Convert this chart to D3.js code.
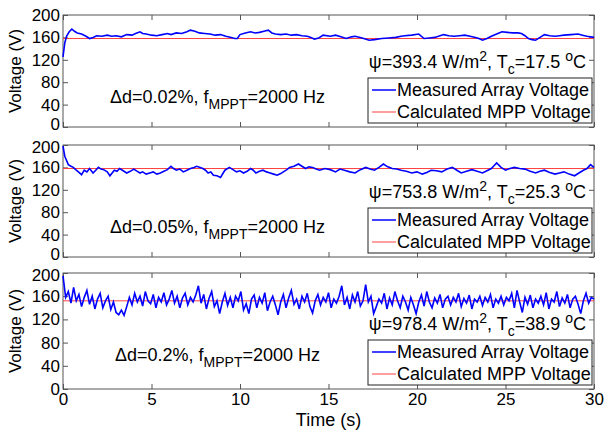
<!DOCTYPE html>
<html lang="en">
<head>
<meta charset="UTF-8" />
<title>Array voltage vs MPP voltage</title>
<script src="https://cdn.jsdelivr.net/npm/d3@7"></script>
<style>
  body { margin: 0; background: #fff; }
  text { font-family: "Liberation Sans", Arial, sans-serif; fill: #000; }
</style>
</head>
<body>
<svg width="604" height="432"></svg>
<script>
// axis ticks
const xTicks = [0, 5, 10, 15, 20, 25, 30];
const yTicks = [0, 40, 80, 120, 160, 200];

// panel 1: measured array voltage [time s, volts]
const measuredA = [[0,125],[0.1,150],[0.2,162],[0.35,170],[0.5,175],[0.65,171],[0.8,168],[1.05,166],[1.3,162],[1.5,158],
  [1.7,160],[1.9,163],[2.2,162],[2.5,164],[2.75,162],[3.0,163],[3.3,161],[3.6,165],[3.9,164],[4.1,167],[4.35,170],[4.5,167],
  [4.7,166],[5.0,164],[5.3,163],[5.6,165],[5.9,167],[6.1,165],[6.4,168],[6.7,167],[7.0,170],[7.2,173],[7.45,171],[7.7,168],
  [8.0,167],[8.3,166],[8.6,164],[8.9,165],[9.2,162],[9.5,160],[9.7,158],[9.85,158],[10.0,165],[10.3,168],[10.6,170],[10.85,168],
  [11.1,169],[11.35,171],[11.6,173],[11.8,168],[12.0,166],[12.3,165],[12.6,166],[12.9,164],[13.2,165],[13.5,163],[13.8,162],
  [14.0,160],[14.2,157],[14.45,159],[14.7,164],[15.1,162],[15.4,164],[15.7,161],[16.0,158],[16.3,161],[16.5,162],[16.9,159],
  [17.3,155],[17.6,156],[18.0,158],[18.4,159],[18.8,160],[19.1,162],[19.3,163],[19.7,164],[20.1,166],[20.4,158],[20.7,159],
  [21.0,160],[21.3,163],[21.5,165],[21.8,163],[22.1,162],[22.4,163],[22.7,164],[23.0,162],[23.3,160],[23.5,158],[23.7,155],
  [23.95,158],[24.2,162],[24.5,166],[24.8,170],[25.1,169],[25.4,168],[25.7,168],[25.9,167],[26.1,163],[26.3,158],[26.5,156],
  [26.7,155],[26.95,160],[27.2,165],[27.5,163],[27.8,162],[28.05,163],[28.3,164],[28.7,165],[29.1,166],[29.35,164],[29.6,162],[30,160]];

// panel 2
const measuredB = [[0,198],[0.1,180],[0.3,165],[0.45,162],[0.58,160],[0.75,155],[0.87,152],[1.05,147],[1.2,155],[1.35,152],
  [1.5,158],[1.7,150],[1.85,155],[2.0,160],[2.15,157],[2.3,156],[2.5,152],[2.65,145],[2.9,155],[3.05,153],[3.2,158],[3.4,154],
  [3.6,150],[3.8,153],[4.0,157],[4.2,153],[4.35,150],[4.5,152],[4.7,148],[4.9,150],[5.1,152],[5.3,148],[5.5,150],[5.7,153],
  [5.9,156],[6.1,162],[6.25,158],[6.4,155],[6.6,157],[6.8,152],[7.0,155],[7.2,158],[7.4,160],[7.55,162],[7.75,160],[7.9,158],
  [8.05,155],[8.2,150],[8.35,152],[8.5,146],[8.7,145],[8.9,142],[9.05,150],[9.15,155],[9.4,160],[9.6,156],[9.8,152],[10.0,154],
  [10.2,150],[10.4,153],[10.6,158],[10.75,155],[10.9,150],[11.1,153],[11.3,155],[11.5,152],[11.7,150],[11.9,148],[12.1,146],
  [12.3,149],[12.45,152],[12.65,156],[12.8,160],[13.05,162],[13.3,166],[13.5,162],[13.7,158],[13.9,161],[14.1,160],[14.3,157],
  [14.5,155],[14.8,158],[15.1,156],[15.4,152],[15.65,157],[15.9,155],[16.2,152],[16.5,150],[16.8,156],[17.1,160],[17.35,157],
  [17.6,155],[17.85,160],[18.1,166],[18.35,161],[18.6,158],[18.85,157],[19.1,155],[19.4,153],[19.7,150],[20.0,152],[20.3,148],
  [20.55,151],[20.8,155],[21.1,154],[21.4,152],[21.7,157],[22.0,160],[22.25,155],[22.5,150],[22.8,153],[23.1,156],[23.4,153],
  [23.7,150],[23.95,154],[24.2,158],[24.35,163],[24.5,168],[24.75,160],[25.0,155],[25.25,158],[25.5,160],[25.8,158],[26.1,157],
  [26.4,153],[26.7,150],[26.95,153],[27.2,155],[27.5,151],[27.8,148],[28.05,150],[28.3,152],[28.6,148],[28.9,145],[29.15,150],
  [29.4,155],[29.6,158],[29.8,165],[30,160]];

// panel 3: sampled every 0.15 s from 0 to 30 s
const measuredC = [
  195, 158, 168, 148, 175, 152, 163, 142, 158, 170, 146, 160, 138, 155, 165, 140, 152, 160, 137, 150,
  132, 128, 136, 127, 142, 158, 145, 165, 150, 160, 143, 168, 152, 147, 163, 140, 158, 150, 166, 145,
  155, 170, 148, 160, 140, 157, 165, 145, 158, 150, 162, 178, 148, 163, 138, 156, 168, 142, 152, 130,
  150, 165, 144, 158, 140, 160, 152, 168, 136, 147, 130, 155, 162, 140, 158, 148, 166, 135, 150, 160,
  145, 128, 150, 163, 140, 157, 170, 146, 155, 138, 160, 150, 165, 142, 131, 152, 163, 145, 158, 150,
  166, 140, 155, 148, 160, 178, 145, 158, 138, 162, 150, 168, 143, 152, 180, 150, 160, 130, 142, 155,
  148, 165, 138, 157, 145, 168, 152, 140, 160, 150, 136, 158, 145, 130, 150, 162, 143, 168, 150, 140,
  157, 148, 163, 140, 155, 160, 145, 158, 150, 165, 142, 156, 148, 162, 138, 155, 150, 160, 144, 158,
  150, 163, 140, 155, 148, 160, 145, 158, 152, 165, 140, 170, 150, 132, 158, 146, 162, 140, 155, 148,
  160, 145, 166, 138, 155, 150, 168, 142, 157, 148, 163, 140, 155, 160, 146, 130, 152, 165, 148, 158,
  155];
const dtC = 0.15;

// calculated MPP voltage per panel
const mppVoltage = [158, 158, 152];
const dutyStep = ["0.02%", "0.05%", "0.2%"];
const irradiance = ["393.4", "753.8", "978.4"];
const cellTemp = ["17.5", "25.3", "38.9"];
const legendNames = ["Measured Array Voltage", "Calculated MPP Voltage"];

const series = [
  measuredA,
  measuredB,
  measuredC.map((v, i) => [i * dtC, v])
];

// layout
const svg = d3.select('svg');
const left = 63, right = 594;
const fs = '18px', fsSmall = '14px', fsTick = '17px';
const panels = [
  { top: 15, bottom: 127, ddY: 97 },
  { top: 145, bottom: 257, ddY: 227 },
  { top: 273, bottom: 389, ddY: 355 }
];

const x = d3.scaleLinear().domain([0, 30]).range([left, right]);

panels.forEach((p, k) => {
  const y = d3.scaleLinear().domain([0, 200]).range([p.bottom, p.top]);
  const g = svg.append('g');

  // box
  g.append('rect')
    .attr('x', left).attr('y', p.top)
    .attr('width', right - left).attr('height', p.bottom - p.top)
    .attr('fill', 'none').attr('stroke', '#555').attr('stroke-width', 1);

  // inward ticks on all sides
  const yl = g.append('g').attr('transform', `translate(${left},0)`)
    .call(d3.axisLeft(y).tickValues(yTicks).tickSizeInner(-5).tickSizeOuter(0).tickPadding(3));
  const yr = g.append('g').attr('transform', `translate(${right},0)`)
    .call(d3.axisRight(y).tickValues(yTicks).tickSizeInner(-5).tickSizeOuter(0).tickFormat(''));
  const xb = g.append('g').attr('transform', `translate(0,${p.bottom})`)
    .call(d3.axisBottom(x).tickValues(xTicks).tickSizeInner(-5).tickSizeOuter(0).tickPadding(4)
      .tickFormat(k === 2 ? d3.format('d') : ''));
  const xt = g.append('g').attr('transform', `translate(0,${p.top})`)
    .call(d3.axisTop(x).tickValues(xTicks).tickSizeInner(-5).tickSizeOuter(0).tickFormat(''));
  [yl, yr, xb, xt].forEach(a => {
    a.select('.domain').remove();
    a.selectAll('line').attr('stroke', '#555');
    a.selectAll('text').style('font-size', fsTick).attr('fill', '#000');
  });
  // keep end labels of stacked panels from running into each other
  yl.selectAll('text')
    .attr('y', d => (d === 0 && k < 2) ? -3 : (d === 200 && k > 0) ? 2 : 0);

  // y label
  g.append('text')
    .attr('transform', `translate(17,${(p.top + p.bottom) / 2}) rotate(-90)`)
    .attr('text-anchor', 'middle').attr('dominant-baseline', 'middle')
    .style('font-size', '17px').text('Voltage (V)');

  // lines
  const line = d3.line().x(d => x(d[0])).y(d => y(d[1]));
  g.append('line')
    .attr('x1', x(0)).attr('x2', x(30))
    .attr('y1', y(mppVoltage[k])).attr('y2', y(mppVoltage[k]))
    .attr('stroke', '#ff4040').attr('stroke-width', 1);
  g.append('path').datum(series[k])
    .attr('d', line).attr('fill', 'none')
    .attr('stroke', '#0000ff').attr('stroke-width', 1.6);

  // duty step annotation
  const dd = g.append('text').attr('x', k === 2 ? 115 : 110).attr('y', p.ddY + 6)
    .style('font-size', fs);
  dd.append('tspan').text(`Δd=${dutyStep[k]}, f`);
  dd.append('tspan').attr('dy', 6).style('font-size', fsSmall).text('MPPT');
  dd.append('tspan').attr('dy', -6).text('=2000 Hz');

  // irradiance / temperature annotation
  const ps = g.append('text').attr('x', 586).attr('y', p.bottom - 59)
    .attr('text-anchor', 'end').style('font-size', fs);
  ps.append('tspan').text(`ψ=${irradiance[k]} W/m`);
  ps.append('tspan').attr('dy', -7).style('font-size', fsSmall).text('2');
  ps.append('tspan').attr('dy', 7).text(', T');
  ps.append('tspan').attr('dy', 6).style('font-size', fsSmall).text('c');
  ps.append('tspan').attr('dy', -6).text(`=${cellTemp[k]} `);
  ps.append('tspan').attr('dy', -7).style('font-size', fsSmall).text('o');
  ps.append('tspan').attr('dy', 7).text('C');

  // legend
  const lt = p.bottom - 49, lb = p.bottom - 4;
  const lg = g.append('g');
  lg.append('rect').attr('x', 368).attr('y', lt).attr('width', 224).attr('height', lb - lt)
    .attr('fill', '#fff').attr('stroke', '#222').attr('stroke-width', 1);
  const colors = ['#0000ff', '#ff4040'];
  legendNames.forEach((name, i) => {
    const ly = lt + 12 + i * 22;
    lg.append('line').attr('x1', 372).attr('x2', 396).attr('y1', ly).attr('y2', ly)
      .attr('stroke', colors[i]).attr('stroke-width', i === 0 ? 1.5 : 1);
    lg.append('text').attr('x', 397).attr('y', ly + 6).style('font-size', fs).text(name);
  });
});

// x label
svg.append('text').attr('x', (left + right) / 2).attr('y', 426)
  .attr('text-anchor', 'middle').style('font-size', fs).text('Time (s)');
</script>
</body>
</html>
